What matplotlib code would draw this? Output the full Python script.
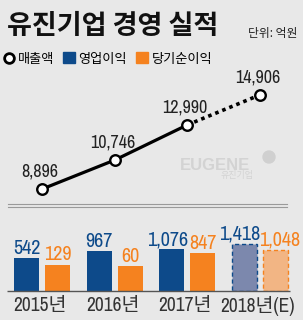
import numpy as np
import matplotlib
matplotlib.use('Agg')
import matplotlib.pyplot as plt
from matplotlib import font_manager
from matplotlib.lines import Line2D
from matplotlib.patches import Patch, Ellipse

# data
years = ['2015년', '2016년', '2017년', '2018년(E)']
sales = [8896, 10746, 12990, 14906]
op_profit = [542, 967, 1076, 1418]
net_profit = [129, 60, 847, 1048]
estimate = [False, False, False, True]

W, H = 303, 320
BG = '#e8e8e8'
BLUE = '#0d4a8a'
ORANGE = '#f5821f'
BLUE_E = '#7c88ad'
ORANGE_E = '#f2b584'
BAR_OFFSET = 1500   # bars start below zero in the original

names = {f.name for f in font_manager.fontManager.ttflist}
NUM = 'Liberation Sans'
for cand in ['Archivo Narrow', 'Liberation Sans Narrow', 'Roboto Condensed']:
    if cand in names:
        NUM = cand
        break
KR = 'Noto Sans CJK KR'
plt.rcParams['font.family'] = [NUM, KR, 'DejaVu Sans']


def fx(x):
    return x / W


def fy(y):
    return 1 - y / H


fig = plt.figure(figsize=(W / 100, H / 100), dpi=100, facecolor=BG)

# x axis shared by both panels: group index -> pixels
step = 72.5
x0 = 42.2
xlim = (-x0 / step, (W - x0) / step)
xs = np.arange(len(years))

# ---- line panel
ax1 = fig.add_axes([0, fy(200), 1, (200 - 70) / H])
ax1.set_xlim(*xlim)
scale = 0.01564  # px per unit
ax1.set_ylim(8896 - 11 / scale, 8896 + 119 / scale)
ax1.axis('off')
ax1.patch.set_alpha(0)

ax1.plot(xs[:3], sales[:3], color='black', lw=2.3, zorder=2, solid_capstyle='butt')
ax1.plot(xs[2:], sales[2:], color='black', lw=2.6, ls=(0, (1, 1.1)), zorder=2,
         dash_capstyle='butt')
ax1.plot(xs, sales, 'o', ms=7.6, mfc='white', mec='black', mew=1.7, zorder=3)
for i, v in enumerate(sales):
    ax1.annotate(f'{v:,}', (xs[i], v), xytext=(-1.5, 9), textcoords='offset points',
                 ha='center', va='baseline', fontsize=13, color='#222222')

# ---- bar panel
ax2 = fig.add_axes([0, fy(290.7), 1, (290.7 - 215) / H])
ax2.set_xlim(*xlim)
bscale = 0.016
ax2.set_ylim(-BAR_OFFSET, -BAR_OFFSET + 75.7 / bscale)
ax2.axis('off')
ax2.patch.set_alpha(0)

bw = 25 / step
dx = 15.5 / step
for i in range(len(years)):
    for val, off, c, ce, side in [(op_profit[i], -dx, BLUE, BLUE_E, -1),
                                  (net_profit[i], dx, ORANGE, ORANGE_E, 1)]:
        if estimate[i]:
            ax2.bar(xs[i] + off, val + BAR_OFFSET, bottom=-BAR_OFFSET, width=bw,
                    color=ce, edgecolor=c, lw=1.0, ls=(0, (3, 2)))
        else:
            ax2.bar(xs[i] + off, val + BAR_OFFSET, bottom=-BAR_OFFSET, width=bw, color=c)
        lab = f'{val:,}'
        shift = side * 3 if len(lab) > 3 else 0
        ax2.annotate(lab, (xs[i] + off, val), xytext=(shift, 3), textcoords='offset points',
                     ha='center', va='baseline', fontsize=14.5, color=c)
ax2.plot([xlim[0] + 7 / step, xlim[0] + 290 / step], [-BAR_OFFSET, -BAR_OFFSET],
         color='#555555', lw=1.0, clip_on=False, solid_capstyle='butt')

for i, t in enumerate(years):
    fig.text(fx(x0 + step * i - 2), fy(311.5), t, ha='center', va='baseline',
             fontsize=14, color='#333333')

# separator double line
for y in (204, 206.6):
    fig.add_artist(Line2D([fx(8), fx(287)], [fy(y), fy(y)], color='#9a9a9a', lw=0.8))

# title
fig.text(fx(7), fy(33.5), '유진기업 경영 실적', fontsize=19.5, fontweight='bold',
         family=[KR], color='#111111', va='baseline')
fig.text(fx(297), fy(37), '단위: 억원', fontsize=8.5, family=[KR], color='#222222',
         ha='right', va='baseline')

# legend
handles = [Line2D([], [], marker='o', ls='none', ms=7, mfc='white', mec='black', mew=2),
           Patch(color=BLUE), Patch(color=ORANGE)]
fig.legend(handles, ['매출액', '영업이익', '당기순이익'], loc='center left',
           bbox_to_anchor=(fx(0), fy(59)), ncol=3, frameon=False,
           handlelength=0.9, handleheight=0.9, handletextpad=0.25, columnspacing=0.7,
           borderpad=0, borderaxespad=0.2, prop={'family': KR, 'size': 9.5})

# watermark
fig.text(fx(215), fy(165), 'EUGENE', fontsize=12, fontweight='bold', family='Liberation Sans',
         color='#d3d3d3', ha='center', va='center')
fig.text(fx(237), fy(175.5), '유진기업', fontsize=6.5, family=[KR], color='#d3d3d3',
         ha='center', va='center')
fig.add_artist(Ellipse((fx(269), fy(157)), 12 / W, 12 / H, color='#d0d0d0'))

fig.savefig('out.png', dpi=100, facecolor=BG)
